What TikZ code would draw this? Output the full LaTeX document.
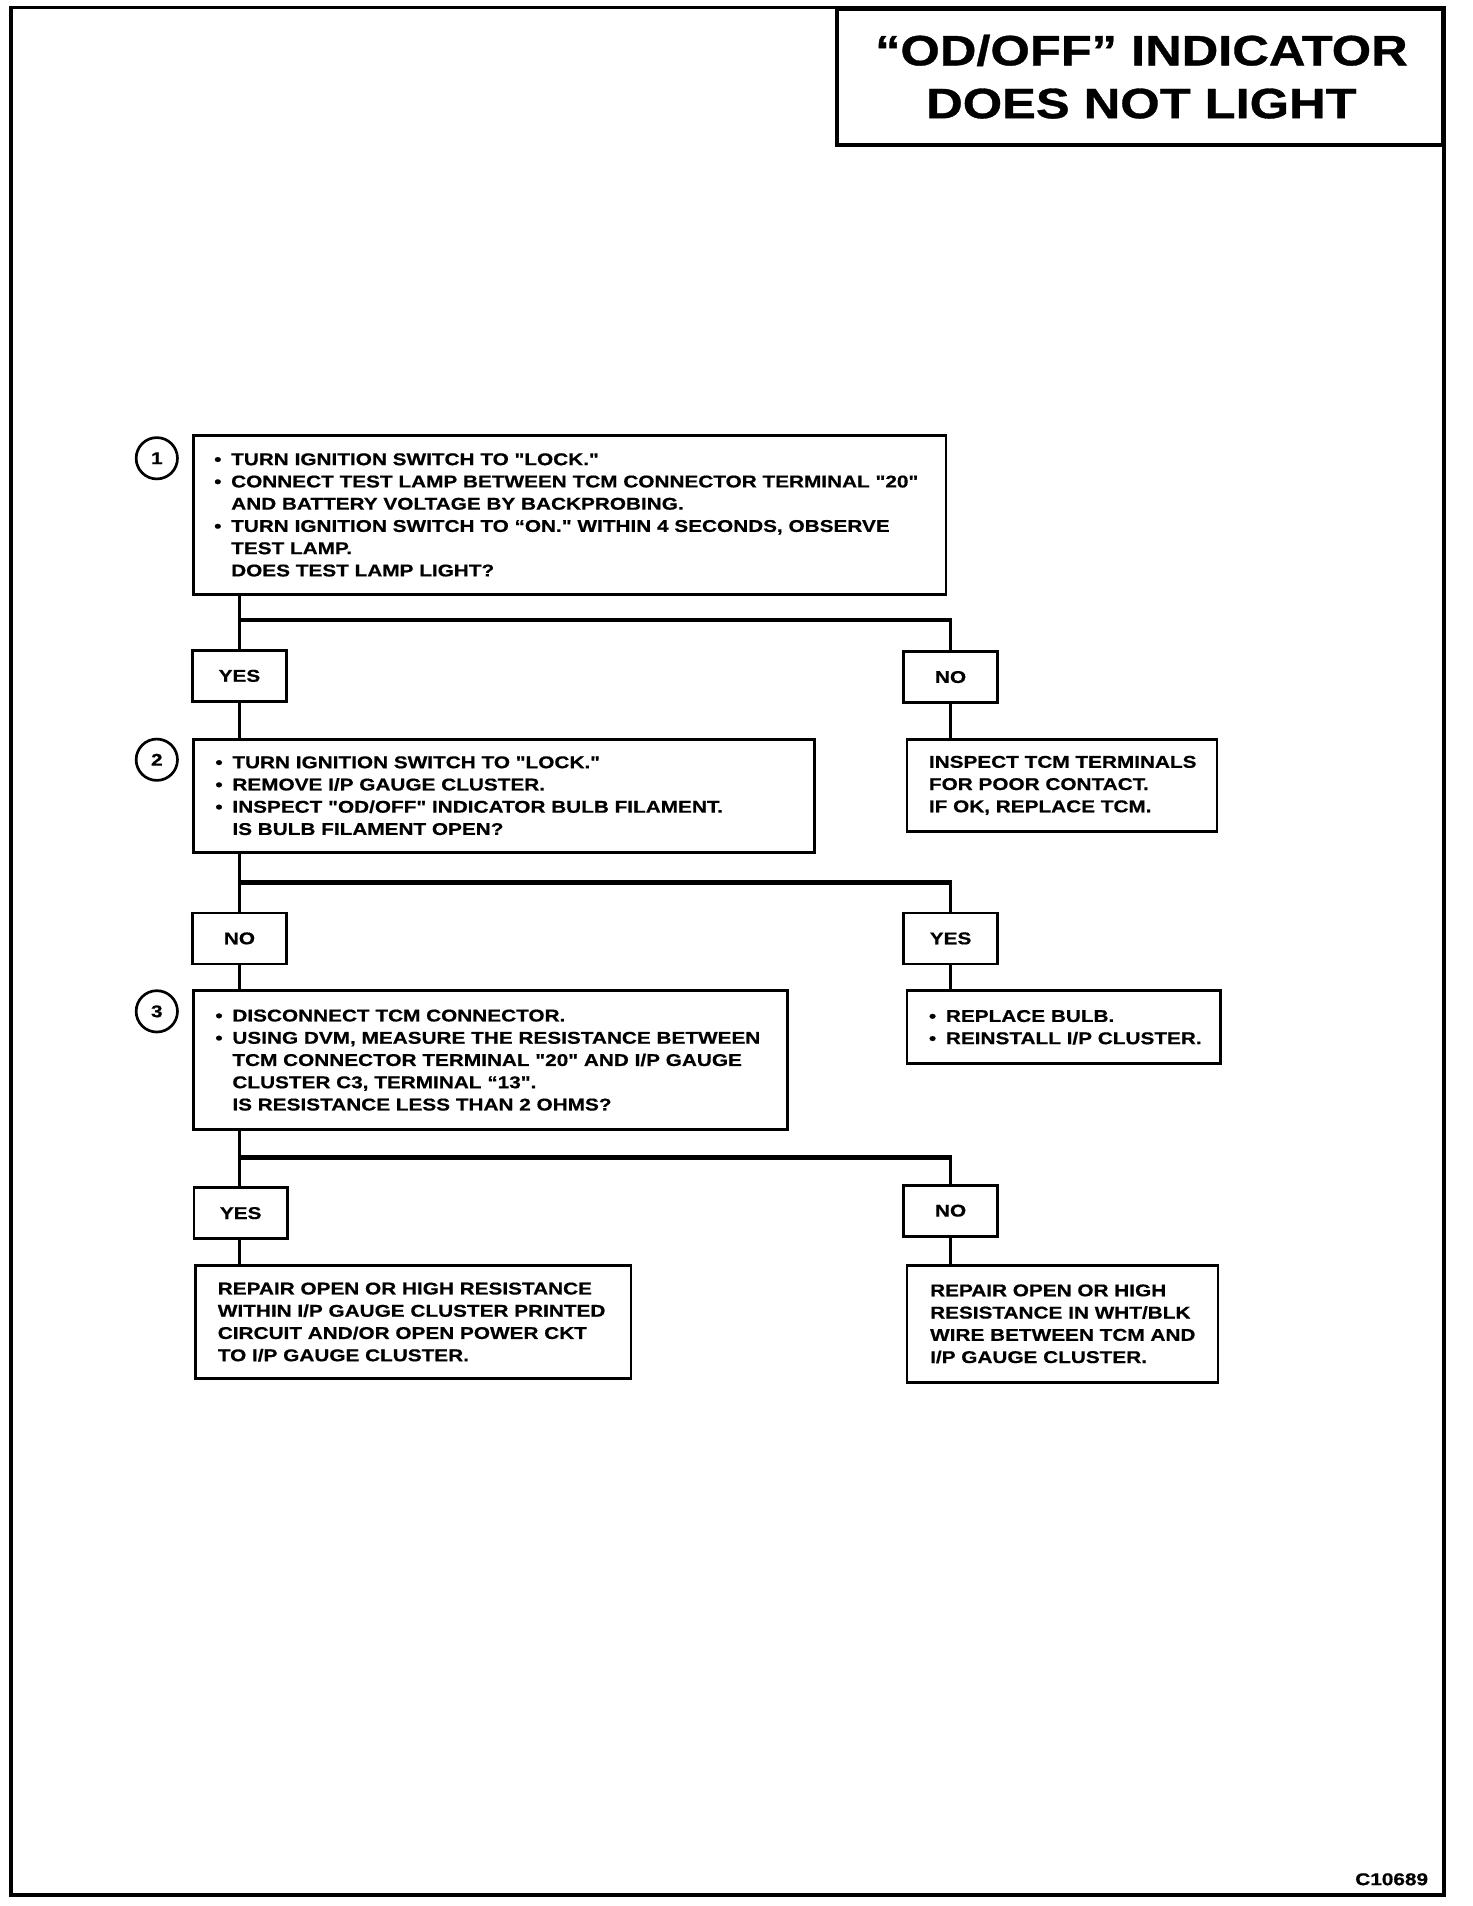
\documentclass[tikz,border=0pt]{standalone}
\usepackage{fontspec}
\newfontfamily\bodyfont{Liberation Sans}[FakeStretch=1.22,FakeBold=0.6]
\newfontfamily\headfont{Liberation Sans}[FakeStretch=1.19,FakeBold=0.8]
\newcommand\bodyfs{\bodyfont\bfseries\fontsize{14}{18.3}\selectfont}
\newcommand\headfs{\headfont\bfseries\fontsize{35}{43.5}\selectfont}
\newcommand\bulx{\makebox[14pt][l]{•}}
\newcommand\indx{\hspace*{14pt}}
\begin{document}
\begin{tikzpicture}[x=1pt,y=-1pt,
  frame/.style={line width=2.8pt},
  box/.style={draw, line width=2.2pt, inner sep=0pt, anchor=north west},
  txt/.style={inner sep=0pt, align=left, anchor=west, font=\bodyfs},
  ans/.style={draw, line width=2.2pt, minimum width=77pt, minimum height=42pt, inner sep=0pt, font=\bodyfs},
  num/.style={circle, draw, line width=2.2pt, minimum size=34pt, inner sep=0pt, font=\bodyfs},
  vline/.style={line width=3pt},
  hline/.style={line width=4pt}]
\useasboundingbox (0,0) rectangle (1211,1568);
\draw[frame] (9,6) rectangle (1188,1559);
% title
\node[draw, line width=2.8pt, minimum width=498pt, minimum height=112pt, inner sep=0pt, anchor=north east] (title) at (1188,6) {};
\node[font=\headfs, align=center, inner sep=0pt] (titletext) at (939,63) {“OD/OFF” INDICATOR\\DOES NOT LIGHT};
% step numbers
\node[num] (c1) at (129,377) {1};
\node[num] (c2) at (129,625) {2};
\node[num] (c3) at (129,832) {3};
% boxes
\node[box, minimum width=619pt, minimum height=131pt] (b1) at (158,357) {};
\node[txt] (t1) at ([xshift=18pt]b1.west) {\bulx TURN IGNITION SWITCH TO "LOCK."\\
\bulx CONNECT TEST LAMP BETWEEN TCM CONNECTOR TERMINAL "20"\\
\indx AND BATTERY VOLTAGE BY BACKPROBING.\\
\bulx TURN IGNITION SWITCH TO “ON." WITHIN 4 SECONDS, OBSERVE\\
\indx TEST LAMP.\\
\indx DOES TEST LAMP LIGHT?};
\node[box, minimum width=511pt, minimum height=93pt] (b2) at (158,607) {};
\node[txt] (t2) at ([xshift=19pt]b2.west) {\bulx TURN IGNITION SWITCH TO "LOCK."\\
\bulx REMOVE I/P GAUGE CLUSTER.\\
\bulx INSPECT "OD/OFF" INDICATOR BULB FILAMENT.\\
\indx IS BULB FILAMENT OPEN?};
\node[box, minimum width=255pt, minimum height=76pt] (r1) at (745,607) {};
\node[txt] (tr1) at ([xshift=19pt]r1.west) {INSPECT TCM TERMINALS\\
FOR POOR CONTACT.\\
IF OK, REPLACE TCM.};
\node[box, minimum width=489pt, minimum height=114pt] (b3) at (158,814) {};
\node[txt] (t3) at ([xshift=19pt]b3.west) {\bulx DISCONNECT TCM CONNECTOR.\\
\bulx USING DVM, MEASURE THE RESISTANCE BETWEEN\\
\indx TCM CONNECTOR TERMINAL "20" AND I/P GAUGE\\
\indx CLUSTER C3, TERMINAL “13".\\
\indx IS RESISTANCE LESS THAN 2 OHMS?};
\node[box, minimum width=258pt, minimum height=60pt] (r2) at (745,814) {};
\node[txt] (tr2) at ([xshift=19pt]r2.west) {\bulx REPLACE BULB.\\
\bulx REINSTALL I/P CLUSTER.};
\node[box, minimum width=358pt, minimum height=93pt] (b4) at (160,1040) {};
\node[txt] (t4) at ([xshift=19pt]b4.west) {REPAIR OPEN OR HIGH RESISTANCE\\
WITHIN I/P GAUGE CLUSTER PRINTED\\
CIRCUIT AND/OR OPEN POWER CKT\\
TO I/P GAUGE CLUSTER.};
\node[box, minimum width=256pt, minimum height=96pt] (r3) at (745,1040) {};
\node[txt] (tr3) at ([xshift=20pt]r3.west) {REPAIR OPEN OR HIGH\\
RESISTANCE IN WHT/BLK\\
WIRE BETWEEN TCM AND\\
I/P GAUGE CLUSTER.};
% answers
\node[ans] (y1) at (197,556) {YES};
\node[ans] (n1) at (782,557) {NO};
\node[ans] (n2) at (197,772) {NO};
\node[ans] (y2) at (782,772) {YES};
\node[ans] (y3) at (198,998) {YES};
\node[ans] (n3) at (782,996) {NO};
% connectors
\coordinate (j1) at (197,510);
\coordinate (j2) at (197,726);
\coordinate (j3) at (197,952);
\draw[vline] (b1.south -| y1) -- (y1.north);
\draw[hline] ([xshift=-1.5pt]j1) -- ([xshift=1.5pt]j1 -| n1);
\draw[vline] (j1 -| n1) -- (n1.north);
\draw[vline] (y1.south) -- (b2.north -| y1);
\draw[vline] (n1.south) -- (r1.north -| n1);
\draw[vline] (b2.south -| n2) -- (n2.north);
\draw[hline] ([xshift=-1.5pt]j2) -- ([xshift=1.5pt]j2 -| y2);
\draw[vline] (j2 -| y2) -- (y2.north);
\draw[vline] (n2.south) -- (b3.north -| n2);
\draw[vline] (y2.south) -- (r2.north -| y2);
\draw[vline] (b3.south -| j3) -- (j3 |- y3.north);
\draw[hline] ([xshift=-1.5pt]j3) -- ([xshift=1.5pt]j3 -| n3);
\draw[vline] (j3 -| n3) -- (n3.north);
\draw[vline] (j3 |- y3.south) -- (j3 |- b4.north);
\draw[vline] (n3.south) -- (r3.north -| n3);
% figure code
\node[font=\bodyfs, anchor=east, inner sep=0pt] (code) at (1175,1546) {C10689};
\end{tikzpicture}
\end{document}
